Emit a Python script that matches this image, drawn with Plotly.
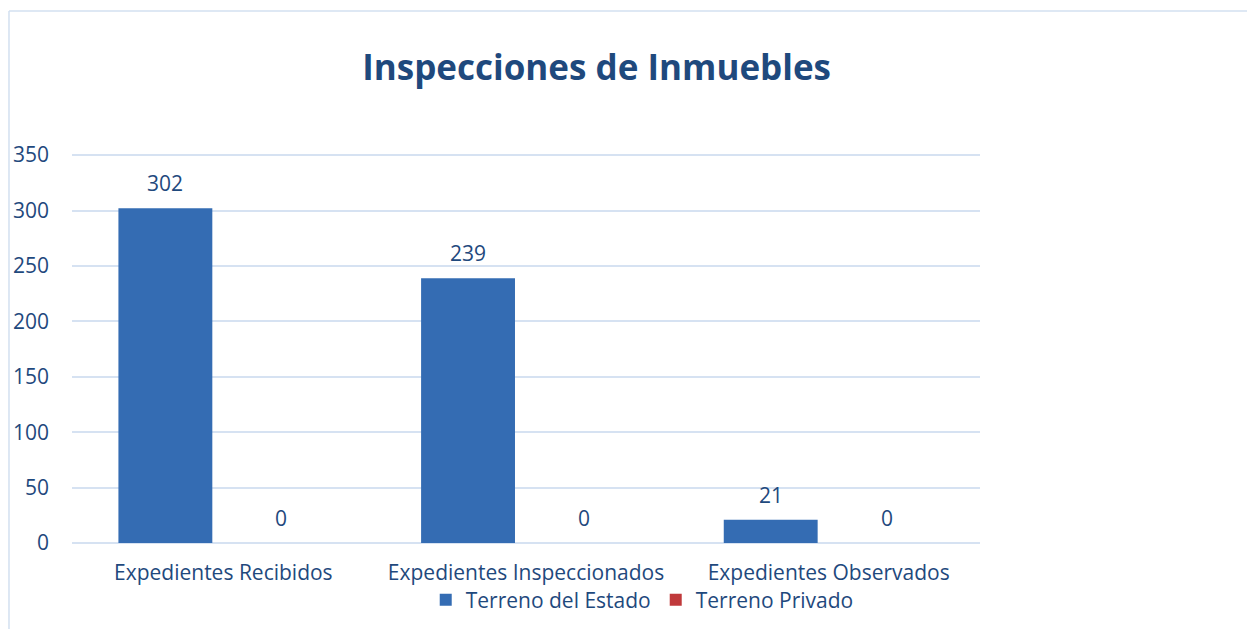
import plotly.graph_objects as go

categories = ["Expedientes Recibidos", "Expedientes Inspeccionados", "Expedientes Observados"]
terreno_estado = [302, 239, 21]
terreno_privado = [0, 0, 0]
series_names = ["Terreno del Estado", "Terreno Privado"]
y_ticks = [0, 50, 100, 150, 200, 250, 300, 350]

TXT = "#1F497D"
GRID = "#D6E2F2"
FONT = "Open Sans"
COLORS = ["#346CB3", "#C0393B"]
FS = 21

W, H = 1247, 621
ML, MR, MT, MB = 64, 275, 146, 86
BARGAP, GROUPGAP = 0.234, 0.19

fig = go.Figure()
all_series = [terreno_estado, terreno_privado]
for name, vals, col in zip(series_names, all_series, COLORS):
    fig.add_trace(go.Bar(
        x=categories, y=vals, name=name,
        marker=dict(color=col, line=dict(width=0)),
        hoverinfo="x+y+name",
    ))

# data labels above each bar (shifted to each bar's slot in the group)
plot_w = W - ML - MR
slot = plot_w / len(categories) * (1 - BARGAP) / len(all_series)
annotations = []
for i, vals in enumerate(all_series):
    xshift = (i - (len(all_series) - 1) / 2) * slot
    for cat, v in zip(categories, vals):
        annotations.append(dict(
            x=cat, y=v, xref="x", yref="y", text=str(v), showarrow=False,
            xshift=xshift, yshift=25, yanchor="middle", xanchor="center",
            font=dict(size=FS, color=TXT, family=FONT),
        ))

fig.update_layout(
    width=W, height=H,
    barmode="group", bargap=BARGAP, bargroupgap=GROUPGAP,
    paper_bgcolor="white", plot_bgcolor="white",
    margin=dict(l=ML, r=MR, t=MT, b=MB, autoexpand=False),
    font=dict(family=FONT, color=TXT, size=FS),
    title=dict(text="<b>Inspecciones de Inmuebles</b>", x=0.472, xanchor="center",
               xref="container", y=0.903, yref="container", yanchor="middle",
               font=dict(size=35, color=TXT, family=FONT)),
    showlegend=True,
    legend=dict(orientation="h", x=0.628, xanchor="center", y=-0.147, yanchor="middle",
                font=dict(size=FS, color=TXT, family=FONT), itemwidth=30,
                traceorder="normal", bgcolor="rgba(0,0,0,0)"),
    xaxis=dict(showgrid=False, showline=False, ticks="", tickfont=dict(size=FS, color=TXT),
               ticklabelstandoff=15),
    yaxis=dict(range=[0, 351], tickvals=y_ticks, showgrid=True, gridcolor=GRID, gridwidth=1.5,
               zeroline=True, zerolinecolor=GRID, zerolinewidth=1.5, showline=False, ticks="",
               tickfont=dict(size=FS, color=TXT), ticklabelstandoff=22),
    annotations=annotations,
    shapes=[
        dict(type="line", xref="paper", yref="paper", x0=-0.0694, x1=1.4, y0=1.3676, y1=1.3676,
             line=dict(color="#D3E0F0", width=1.5)),
        dict(type="line", xref="paper", yref="paper", x0=-0.0694, x1=-0.0694, y0=-0.3, y1=1.3676,
             line=dict(color="#D3E0F0", width=1.5)),
    ],
)

fig.write_html("out.html")
